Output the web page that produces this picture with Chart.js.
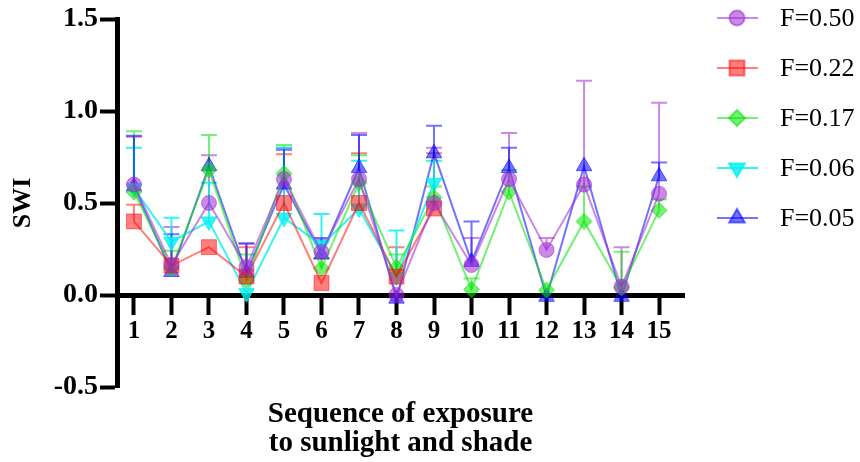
<!DOCTYPE html>
<html>
<head>
<meta charset="utf-8">
<style>
  html, body { margin: 0; padding: 0; background: #fff; }
  #wrap { width: 860px; height: 462px; position: relative; }
</style>
<script src="https://cdn.jsdelivr.net/npm/chart.js@4"></script>
</head>
<body>
<div id="wrap"><canvas id="myChart" width="860" height="462"></canvas></div>
<script>
// data
let sequence = [1, 2, 3, 4, 5, 6, 7, 8, 9, 10, 11, 12, 13, 14, 15];
let yTicks = [-0.5, 0.0, 0.5, 1.0, 1.5];

let f050 = [0.60, 0.163, 0.50, 0.152, 0.63, 0.234, 0.63, 0.00, 0.50, 0.163, 0.63, 0.245, 0.60, 0.045, 0.55];
let f050Err = [0.86, 0.37, 0.76, 0.28, 0.80, 0.30, 0.88, null, 0.80, 0.31, 0.88, 0.31, 1.165, 0.26, 1.045];

let f022 = [0.40, 0.16, 0.26, 0.10, 0.50, 0.065, 0.50, 0.10, 0.47, null, null, null, null, null, null];
let f022Err = [0.49, null, null, 0.26, 0.765, null, 0.77, 0.26, 0.77, null, null, null, null, null, null];

let f017 = [0.56, 0.145, 0.68, 0.08, 0.66, 0.145, 0.61, 0.15, 0.53, 0.03, 0.56, 0.027, 0.40, 0.04, 0.46];
let f017Err = [0.89, 0.24, 0.87, 0.22, 0.815, 0.20, 0.76, 0.22, 0.59, 0.09, 0.68, null, 0.59, 0.235, 0.52];

let f006 = [0.58, 0.29, 0.40, 0.01, 0.42, 0.27, 0.47, 0.10, 0.61, null, null, null, null, null, null];
let f006Err = [0.80, 0.42, 0.61, null, 0.80, 0.44, 0.73, 0.35, 0.73, null, null, null, null, null, null];

let f005 = [0.59, 0.125, 0.70, 0.12, 0.60, 0.22, 0.69, -0.02, 0.77, 0.18, 0.69, -0.01, 0.70, -0.01, 0.645];
let f005Err = [0.865, 0.33, null, 0.28, 0.79, 0.31, 0.87, null, 0.92, 0.40, 0.80, null, null, null, 0.72];

function pts(vals) {
    let out = [];
    for (let i = 0; i < sequence.length; i++) {
        if (vals[i] !== null) out.push({ x: sequence[i], y: vals[i] });
    }
    return out;
}

function serie(label, vals, err, color, style, radius, rotation) {
    return {
        label: label,
        data: pts(vals),
        errUp: err,
        borderColor: color,
        backgroundColor: color,
        borderWidth: 2,
        pointStyle: style,
        pointRadius: radius,
        pointRotation: rotation || 0,
        pointBorderWidth: 1,
        pointBorderColor: color,
        pointBackgroundColor: color,
        fill: false,
        tension: 0
    };
}

const serif = "'Liberation Serif', 'Times New Roman', serif";

// upper error bars
const errorBars = {
    id: "errorBars",
    beforeDatasetsDraw(chart) {
        const ctx = chart.ctx;
        const xs = chart.scales.x, ys = chart.scales.y;
        chart.data.datasets.forEach(ds => {
            ctx.save();
            ctx.strokeStyle = ds.borderColor;
            ctx.lineWidth = 2;
            for (let i = 0; i < sequence.length; i++) {
                let top = ds.errUp[i];
                if (top === null || top === undefined) continue;
                let p = ds.data.find(d => d.x === sequence[i]);
                if (!p) continue;
                let px = xs.getPixelForValue(p.x);
                let py = ys.getPixelForValue(p.y);
                let pt = ys.getPixelForValue(top);
                ctx.beginPath();
                ctx.moveTo(px, py);
                ctx.lineTo(px, pt);
                ctx.moveTo(px - 8, pt);
                ctx.lineTo(px + 8, pt);
                ctx.stroke();
            }
            ctx.restore();
        });
    }
};

// legend on the right, plus the two-line x title
const extras = {
    id: "extras",
    afterDraw(chart) {
        const ctx = chart.ctx;
        ctx.save();
        chart.data.datasets.forEach((ds, i) => {
            let y = 18 + i * 50;
            ctx.strokeStyle = ds.borderColor;
            ctx.lineWidth = 2;
            ctx.beginPath();
            ctx.moveTo(717, y);
            ctx.lineTo(758, y);
            ctx.stroke();
            ctx.fillStyle = ds.backgroundColor;
            Chart.helpers.drawPoint(ctx, {
                pointStyle: ds.pointStyle,
                radius: ds.pointRadius,
                rotation: ds.pointRotation,
                borderWidth: 1
            }, 737, y);
            ctx.fillStyle = "#000";
            ctx.font = "26px " + serif;
            ctx.textAlign = "left";
            ctx.textBaseline = "middle";
            ctx.fillText(ds.label, 780, y + 1);
        });
        const xs = chart.scales.x;
        let cx = (xs.left + xs.right) / 2;
        ctx.fillStyle = "#000";
        ctx.font = "bold 29px " + serif;
        ctx.textAlign = "center";
        ctx.textBaseline = "alphabetic";
        ctx.fillText("Sequence of exposure", cx, 422);
        ctx.fillText("to sunlight and shade", cx, 451);
        ctx.restore();
    }
};

new Chart("myChart", {
    type: "line",
    data: {
        datasets: [
            serie("F=0.50", f050, f050Err, "rgba(160,40,210,0.55)", "circle", 7.5),
            serie("F=0.22", f022, f022Err, "rgba(255,0,0,0.5)", "rect", 10.5),
            serie("F=0.17", f017, f017Err, "rgba(0,230,0,0.55)", "rectRot", 8),
            serie("F=0.06", f006, f006Err, "rgba(0,240,240,0.8)", "triangle", 9, 180),
            serie("F=0.05", f005, f005Err, "rgba(0,0,255,0.55)", "triangle", 9)
        ]
    },
    options: {
        responsive: false,
        animation: false,
        layout: { padding: { top: 19, right: 176, bottom: 75, left: 0 } },
        plugins: {
            legend: { display: false },
            tooltip: { enabled: false }
        },
        scales: {
            x: {
                type: "linear",
                position: { y: 0 },
                min: 0.548,
                max: 15.665,
                afterBuildTicks: scale => { scale.ticks = sequence.map(v => ({ value: v })); },
                border: { display: true, color: "#000", width: 5 },
                grid: { drawOnChartArea: false, color: "#000", tickLength: 17, tickWidth: 4 },
                ticks: {
                    color: "#000",
                    padding: 5,
                    maxRotation: 0,
                    autoSkip: false,
                    font: { family: serif, size: 25, weight: "bold" }
                }
            },
            y: {
                min: -0.5,
                max: 1.5,
                afterBuildTicks: scale => { scale.ticks = yTicks.map(v => ({ value: v })); },
                afterFit: scale => { scale.width = 117; },
                border: { display: true, color: "#000", width: 5 },
                grid: { drawOnChartArea: false, color: "#000", tickLength: 17, tickWidth: 4 },
                ticks: {
                    color: "#000",
                    padding: 2,
                    callback: v => v.toFixed(1),
                    font: { family: serif, size: 28, weight: "bold" }
                },
                title: {
                    display: true,
                    text: "SWI",
                    color: "#000",
                    padding: { top: 8, bottom: 4 },
                    font: { family: serif, size: 26, weight: "bold" }
                }
            }
        }
    },
    plugins: [errorBars, extras]
});
</script>
</body>
</html>
